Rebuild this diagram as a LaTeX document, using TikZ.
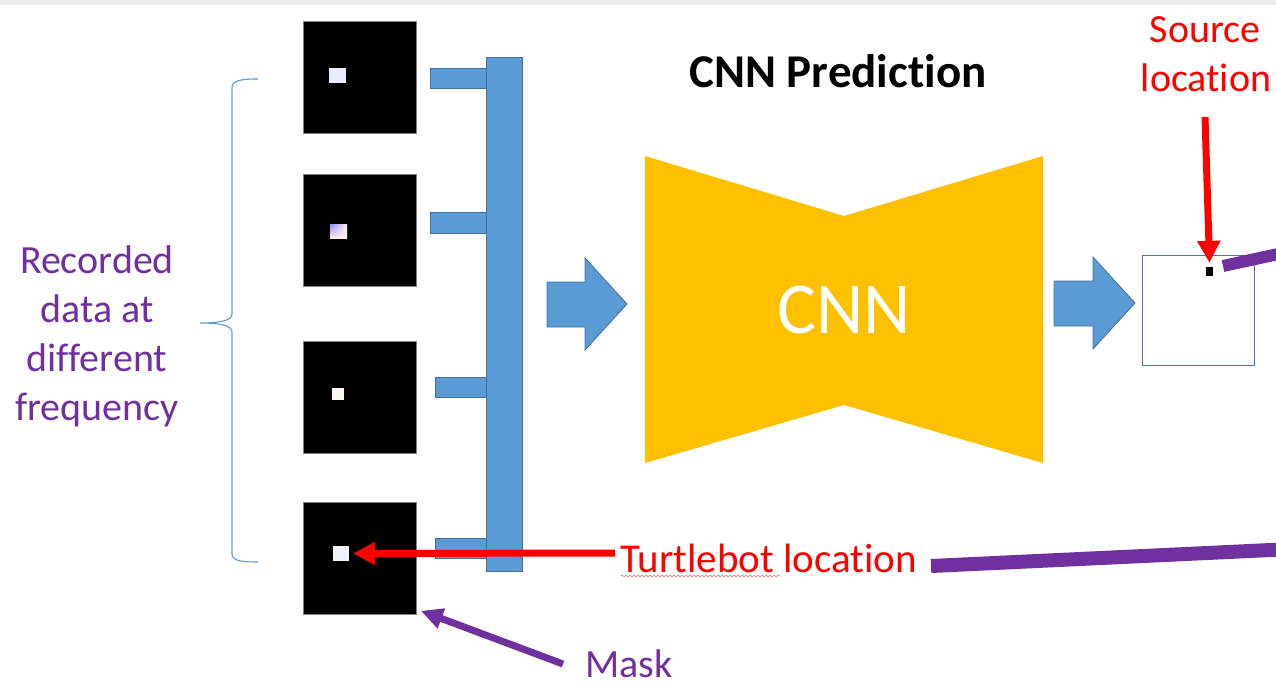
\documentclass[tikz,border=0pt]{standalone}
\usepackage{fontspec}
\setmainfont[Ligatures={NoCommon,NoRare,NoDiscretionary}]{Carlito}
\usetikzlibrary{arrows.meta,decorations.pathmorphing,shadings}
\definecolor{pblue}{HTML}{5B9BD5}
\definecolor{pbluedark}{HTML}{41719C}
\definecolor{pyellow}{HTML}{FFC000}
\definecolor{ppurple}{HTML}{7030A0}
\definecolor{pred}{HTML}{FF0000}
\definecolor{boxblue}{HTML}{4472C4}
\definecolor{stripgray}{HTML}{EBEBEB}
\tikzset{
  tile/.style={fill=black, draw=gray, line width=0.8pt, minimum width=113pt, minimum height=112pt, inner sep=0pt, anchor=north west},
  dotsq/.style={fill=white, inner sep=0pt},
  blockfill/.style={fill=pblue, draw=pbluedark, line width=0.8pt},
  lbl/.style={font=\fontsize{40}{49}\selectfont, inner sep=0pt},
  redarrow/.style={draw=pred, line width=7pt, -{Triangle[length=22pt,width=22pt]}},
  purplearrow/.style={draw=ppurple, line width=7pt, -{Triangle[length=22pt,width=20pt]}},
}
\begin{document}
\begin{tikzpicture}[x=1pt,y=-1pt]
\useasboundingbox (0,0) rectangle (1276,693);
\clip (0,0) rectangle (1276,693);
\fill[stripgray] (0,0) rectangle (1276,5.5);

% tiles
\node[tile] (t1) at (303,21) {};
\node[tile] (t2) at (303,174) {};
\node[tile] (t3) at (303,341) {};
\node[tile] (t4) at (303,502) {};
\node[dotsq, fill=blue!8, minimum width=17pt, minimum height=15pt] (d1) at (337.5,75.5) {};
\node[dotsq, upper left=blue!45!white, upper right=red!8, lower left=red!10, lower right=red!6, minimum width=17pt, minimum height=14pt] (d2) at (338.5,231) {};
\node[dotsq, fill=red!4, minimum width=12pt, minimum height=12pt] (d3) at (338,394) {};
\node[dotsq, fill=blue!6, minimum width=16pt, minimum height=15pt] (d4) at (341,553.5) {};

% blue connectors (tabs and bar)
\draw[blockfill] (430,68) rectangle (486,88);
\draw[blockfill] (430,212) rectangle (486,233);
\draw[blockfill] (435,377) rectangle (486,397);
\draw[blockfill] (435,538) rectangle (486,558);
\draw[blockfill] (486,57) rectangle (522,571);

% block arrows
\draw[blockfill] (547,282) -- (585,282) -- (585,258) -- (627,304) -- (585,350) -- (585,327) -- (547,327) -- cycle;
\draw[blockfill] (1054,281) -- (1093,281) -- (1093,257) -- (1135,303) -- (1093,349) -- (1093,326) -- (1054,326) -- cycle;

% CNN bowtie
\fill[pyellow] (645,156) -- (844,216) -- (1043,156) -- (1043,463) -- (844,405) -- (645,463) -- cycle;
\node[font=\fontsize{73}{88}\selectfont, text=white, anchor=base, inner sep=0pt] (cnn) at (844,333) {CNN};

% output
\node[draw=boxblue, line width=1pt, minimum width=112pt, minimum height=110pt, inner sep=0pt, anchor=north west] (out) at (1142,255) {};
\node[fill=black, minimum width=7pt, minimum height=9pt, inner sep=0pt] (sdot) at (1209.5,271.5) {};

% brace
\draw[pblue, line width=1.1pt] (258,79) .. controls (242,79) and (232,80) .. (232,88) -- (232,314) .. controls (232,320) and (222,323) .. (200,323) .. controls (222,323) and (232,326) .. (232,332) -- (232,554) .. controls (232,561) and (242,562) .. (258,562);

% texts
\node[lbl, text=ppurple, align=center] (rec) at (97,336) {Recorded\\data at\\different\\frequency};
\node[font=\fontsize{47}{56}\selectfont\bfseries, anchor=base, inner sep=0pt] (title) at (838,87) {CNN Prediction};
\node[lbl, text=pred, anchor=base] (src1) at (1205,42) {Source};
\node[lbl, text=pred, anchor=base] (src2) at (1206,91) {location};
\node[lbl, font=\fontsize{41}{49}\selectfont, text=pred, anchor=base west] (turtle) at (620,572) {Turtlebot location};
\node[lbl, text=ppurple, anchor=base west] (mask) at (585,677) {Mask};
\draw[pred!60, line width=0.6pt, decorate, decoration={snake, amplitude=1pt, segment length=4pt}] (621,576) -- (780,576);

% connectors
\coordinate (tstart) at (615,553);
\coordinate (srcstart) at (1205,117);
\coordinate (maskstart) at (563,664);
\coordinate (pa) at (931,566);
\coordinate (pb) at (1292,549);
\coordinate (pc) at (1223,266);
\coordinate (pd) at (1292,251);
\draw[redarrow] (tstart) -- ([xshift=4pt]d4.east);
\draw[redarrow] (srcstart) -- ([yshift=4pt]sdot.north);
\draw[purplearrow] (maskstart) -- ([shift={(4pt,4pt)}]t4.south east);
\draw[ppurple, line width=14pt] (pa) -- (pb);
\draw[ppurple, line width=12pt] (pc) -- (pd);
\end{tikzpicture}
\end{document}
